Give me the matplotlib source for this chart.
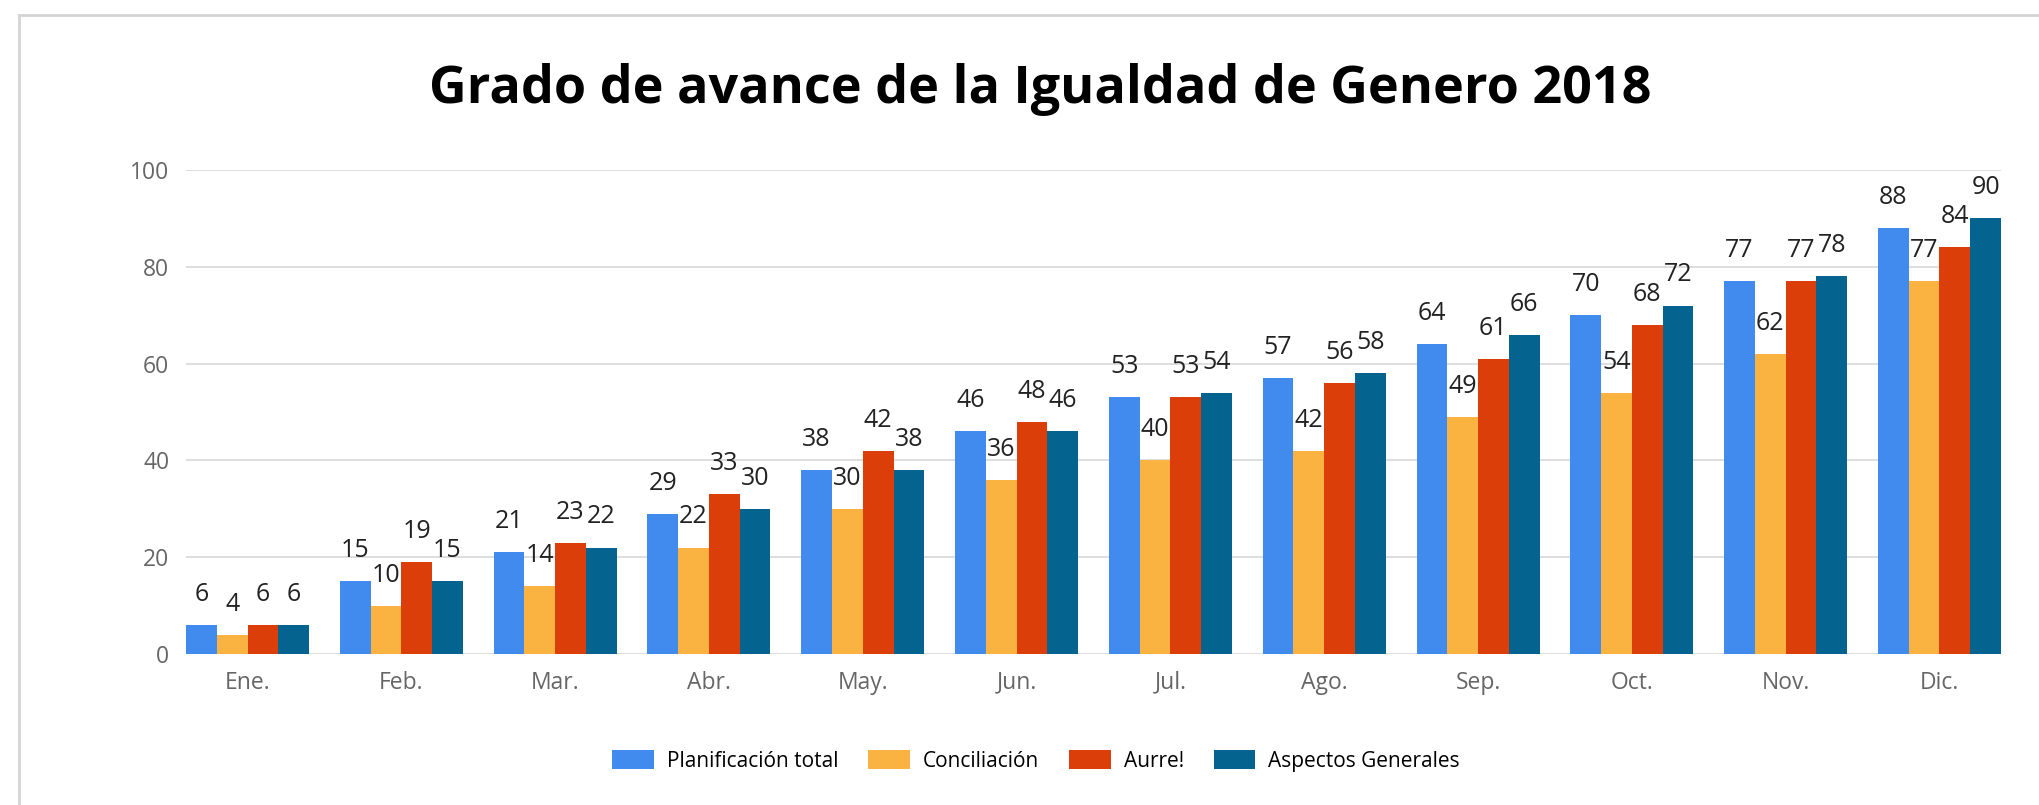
import matplotlib
matplotlib.use("Agg")
import matplotlib.pyplot as plt
from matplotlib.lines import Line2D
import numpy as np

plt.rcParams['font.family'] = ['Open Sans', 'DejaVu Sans']

months = ["Ene.", "Feb.", "Mar.", "Abr.", "May.", "Jun.", "Jul.", "Ago.", "Sep.", "Oct.", "Nov.", "Dic."]
planificacion = [6, 15, 21, 29, 38, 46, 53, 57, 64, 70, 77, 88]
conciliacion = [4, 10, 14, 22, 30, 36, 40, 42, 49, 54, 62, 77]
aurre = [6, 19, 23, 33, 42, 48, 53, 56, 61, 68, 77, 84]
aspectos = [6, 15, 22, 30, 38, 46, 54, 58, 66, 72, 78, 90]
series_names = ["Planificación total", "Conciliación", "Aurre!", "Aspectos Generales"]
colors = ["#428BEE", "#FAB240", "#DC3E0A", "#05638F"]
title = "Grado de avance de la Igualdad de Genero 2018"
yticks = [0, 20, 40, 60, 80, 100]

W, H = 2040, 805
fig = plt.figure(figsize=(W / 100, H / 100), dpi=100)
ax = fig.add_axes([186 / W, (H - 654) / H, (2001 - 186) / W, (654 - 170) / H])

x = np.arange(len(months))
bw = 0.2
all_series = [planificacion, conciliacion, aurre, aspectos]
for k, (vals, c, name) in enumerate(zip(all_series, colors, series_names)):
    pos = x + (k - 1.5) * bw
    ax.bar(pos, vals, width=bw, color=c, label=name, zorder=3, linewidth=0)
    for p, v in zip(pos, vals):
        ax.annotate(str(v), (p, v), xytext=(0, 22), textcoords="offset points",
                    ha="center", va="center", fontsize=18, color="#222222",
                    zorder=4, annotation_clip=False)

ax.set_xlim(-2 * bw, len(months) - 1 + 2 * bw)
ax.set_ylim(0, 100)
ax.set_yticks(yticks)
ax.set_xticks(x)
ax.set_xticklabels(months)
ax.tick_params(axis="both", length=0, labelsize=16.5, labelcolor="#666666")
ax.tick_params(axis="y", pad=12)
ax.tick_params(axis="x", pad=12)
ax.grid(axis="y", color="#DEDEDE", linewidth=1.4, zorder=0)
for s in ax.spines.values():
    s.set_visible(False)

fig.text(1040 / W, (H - 89) / H, title, ha="center", va="center",
         fontsize=37.5, fontweight="bold", color="black")

fig.legend(loc="center", bbox_to_anchor=(1036 / W, (H - 761) / H), ncol=4,
           frameon=False, fontsize=15, handlelength=2.0, handleheight=1.05,
           handletextpad=0.62, columnspacing=1.44)

# outer border (left and top)
fig.add_artist(Line2D([19 / W, 19 / W], [0, (H - 15) / H], transform=fig.transFigure,
                      color="#D4D4D4", linewidth=2))
fig.add_artist(Line2D([19 / W, 1], [(H - 15) / H, (H - 15) / H], transform=fig.transFigure,
                      color="#D4D4D4", linewidth=2))

fig.savefig("out.png", dpi=100, facecolor="white")
